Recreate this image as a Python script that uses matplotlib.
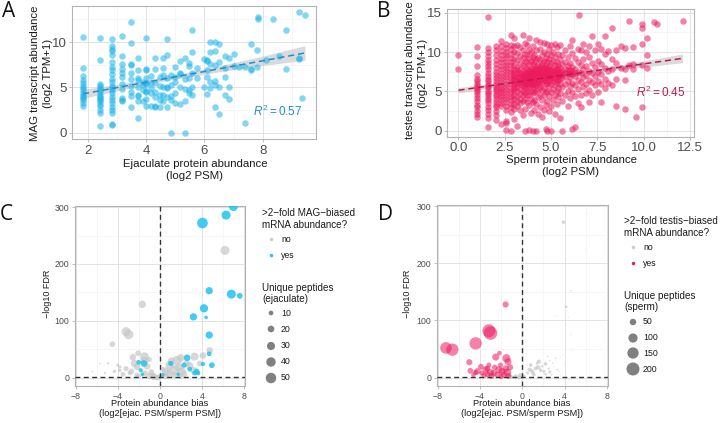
import numpy as np
import matplotlib
matplotlib.use('Agg')
import matplotlib.pyplot as plt
from matplotlib.ticker import MultipleLocator

plt.rcParams['font.family'] = ['Liberation Sans', 'DejaVu Sans']
plt.rcParams['mathtext.fontset'] = 'custom'
plt.rcParams['mathtext.rm'] = 'Liberation Sans'
plt.rcParams['mathtext.it'] = 'Liberation Sans:italic'

# ---- panel A: ejaculate protein vs MAG transcript (columns of points)
a_cols = [1.83, 2.42, 2.81, 3.17, 3.46, 3.7, 3.9, 4.0, 4.17, 4.3, 4.46, 4.58, 4.7,
          4.86, 5.0, 5.17, 5.32, 5.46, 5.58, 5.75, 6.0, 6.1, 6.2, 6.35, 6.5, 6.7,
          6.85, 7.0, 7.2, 7.4, 7.6, 7.8, 7.85, 8.1, 8.35, 8.55, 8.8, 9.25, 9.35, 9.45]
a_vals = [
    [10.55, 7.15, 6.25, 5.85, 5.5, 5.2, 4.95, 4.7, 4.4, 4.2, 4.0, 3.85, 3.65, 3.3, 2.95],
    [10.4, 8.05, 5.4, 5.2, 4.95, 4.7, 4.45, 4.2, 4.0, 3.8, 3.65, 3.5, 3.2, 2.95, 2.55, 2.2, 0.8],
    [10.3, 9.6, 9.2, 9.0, 8.6, 7.8, 7.3, 6.95, 6.5, 5.9, 5.55, 5.2, 4.95, 4.7, 4.4, 4.0,
     3.65, 3.3, 2.9, 2.55, 2.2, 1.0, 0.9],
    [10.7, 8.5, 7.6, 7.0, 6.6, 6.1, 5.4, 4.8, 3.8, 3.6, 3.5],
    [12.2, 9.9, 7.6, 7.5, 6.6, 5.9, 5.2, 4.5, 4.1, 2.8],
    [8.3, 6.9, 6.0, 5.8, 5.0, 4.2, 4.1, 3.5, 1.6],
    [5.6, 5.3, 4.7, 3.5],
    [10.5, 7.0, 6.9, 6.0, 5.5, 5.4, 4.6, 4.5, 3.7, 3.0],
    [6.3, 5.5, 4.9, 4.4, 3.0],
    [8.3, 7.0, 5.5, 4.5, 4.0, 3.0, 2.9],
    [6.2, 5.2, 4.2, 3.6, 2.9],
    [8.3, 7.1, 6.4, 5.0, 4.2, 3.5],
    [10.3, 8.6, 6.0, 5.0, 4.9, 3.9, 2.9],
    [6.4, 5.3, 4.1, 3.6, 0.0],
    [7.3, 6.1, 5.6, 4.4, 3.3],
    [7.9, 6.6, 6.5, 5.0, 3.2],
    [8.3, 5.9, 4.8, 3.5, 0.0],
    [7.7, 7.4, 6.0, 4.7, 4.4],
    [11.3, 8.9, 6.6, 5.1, 4.2],
    [7.2, 6.0],
    [8.1, 5.1],
    [8.0, 7.9, 6.9, 6.2, 4.3],
    [10.0, 8.9, 7.6, 5.6, 4.9],
    [10.0, 9.0, 7.5, 5.7, 5.3, 2.9],
    [9.8, 7.8, 5.0, 2.1],
    [8.5, 7.2, 6.2, 4.2],
    [8.2, 5.0, 3.7],
    [8.7, 7.4],
    [7.3],
    [7.3, 1.1],
    [9.8, 7.0, 6.9],
    [9.1, 7.3],
    [12.8, 12.5],
    [8.0],
    [12.5],
    [8.5],
    [11.3, 7.0],
    [13.3, 8.2, 8.1],
    [3.8],
    [13.0],
]
a_fit_x = [1.83, 3.3, 4.8, 6.3, 7.9, 9.45]
a_fit_y = [4.3, 5.17, 6.05, 6.94, 7.88, 8.8]
a_fit_lo = [3.8, 4.85, 5.83, 6.62, 7.38, 8.0]
a_fit_hi = [4.8, 5.49, 6.27, 7.26, 8.38, 9.6]

# ---- panel B: sperm protein vs testes transcript
b_cols = [0.0, 1.0, 1.58, 2.0, 2.32, 2.58, 2.81, 3.0, 3.17, 3.32, 3.46, 3.58, 3.7,
          3.81, 3.91, 4.0, 4.1, 4.2, 4.3, 4.4, 4.5, 4.6, 4.7, 4.8, 4.9, 5.0, 5.1,
          5.2, 5.3, 5.4, 5.5, 5.6, 5.75, 5.9, 6.0, 6.15, 6.3, 6.45, 6.5, 6.6, 6.75,
          6.9, 7.05, 7.2, 7.4, 7.55, 7.7, 7.9, 8.1, 8.3, 8.5, 8.8, 9.0, 9.2, 9.4,
          9.6, 9.9, 10.2, 10.55, 10.7, 12.1]
b_vals = [
    [9.6, 7.9],
    [10.6, 9.5, 8.2, 7.1, 6.6, 6.3, 6.0, 5.7, 5.5, 5.2, 4.9, 4.6, 4.2, 3.8, 3.3, 3.0, 2.5, 2.1, 1.8],
    [14.5, 10.5, 10.0, 9.5, 9.0, 8.6, 8.2, 7.8, 7.4, 7.0, 6.6, 6.3, 6.0, 5.7, 5.4, 5.1,
     4.8, 4.5, 4.2, 3.9, 3.5, 3.0, 2.6, 2.1, 1.6, 0.5],
    [10.8, 10.2, 9.6, 9.0, 8.5, 8.0, 7.5, 7.1, 6.7, 6.3, 5.9, 5.6, 5.3, 5.0, 4.7, 4.4,
     4.0, 3.6, 3.3, 3.0, 2.5, 2.0, 1.4],
    [11.4, 10.8, 10.1, 9.6, 9.1, 8.7, 8.2, 7.8, 7.4, 7.0, 6.6, 6.2, 5.8, 5.5, 5.2, 4.9,
     4.6, 4.3, 3.9, 3.5, 3.2, 0.9],
    [11.0, 10.5, 10.0, 9.6, 9.2, 8.8, 8.4, 8.0, 7.6, 7.2, 6.8, 6.4, 6.0, 5.6, 5.2, 4.8,
     4.4, 4.0, 3.6, 3.2, 2.6, 1.3, 1.0, 0.1],
    [12.2, 10.9, 10.4, 9.8, 9.3, 8.8, 8.3, 7.9, 7.5, 7.1, 6.7, 6.3, 5.9, 5.5, 5.1, 4.7,
     4.3, 3.9, 3.4, 3.0, 2.4, 0.0],
    [11.8, 10.8, 10.0, 9.1, 8.4, 7.7, 7.3, 7.0, 6.7, 6.4, 6.1, 5.8, 5.5, 5.2, 4.6, 4.0, 3.4, 2.8, 1.5],
    [10.9, 9.9, 9.0, 8.1, 7.7, 7.4, 6.8, 6.5, 6.2, 5.9, 5.6, 5.0, 4.4, 3.8, 3.1, 0.6],
    [10.6, 9.5, 8.6, 7.8, 7.4, 7.1, 6.8, 6.5, 6.2, 5.9, 5.3, 4.7, 4.1, 3.5, 2.6],
    [12.2, 10.2, 9.3, 8.4, 7.6, 7.2, 6.9, 6.6, 6.3, 6.0, 5.7, 5.1, 4.5, 3.8, 2.0],
    [11.1, 9.8, 8.9, 8.1, 7.4, 7.0, 6.7, 6.4, 6.1, 5.8, 5.5, 4.8, 4.0, 2.8, 0.0],
    [10.9, 9.6, 8.7, 7.9, 7.5, 7.2, 6.8, 6.5, 6.2, 5.9, 5.2, 4.5, 3.6],
    [11.8, 10.3, 9.2, 8.3, 7.6, 7.2, 6.8, 6.4, 6.1, 5.8, 5.4, 4.6, 3.3, 0.1],
    [10.0, 8.9, 8.0, 7.6, 7.3, 6.9, 6.6, 6.2, 5.9, 5.1, 4.1, 2.3],
    [10.8, 9.4, 8.5, 7.7, 7.3, 7.0, 6.6, 6.3, 6.0, 5.6, 4.8, 3.6, 0.0],
    [9.6, 8.7, 7.9, 7.5, 7.1, 6.7, 6.4, 6.0, 5.7, 4.9, 3.9, 2.6],
    [11.5, 10.2, 9.1, 8.2, 7.8, 7.4, 7.0, 6.6, 6.2, 5.8, 5.0, 3.4, 0.0],
    [9.3, 8.4, 7.9, 7.6, 7.2, 6.9, 6.5, 6.1, 5.3, 4.3, 2.2],
    [11.3, 10.4, 9.0, 8.1, 7.7, 7.3, 6.9, 6.5, 6.0, 5.6, 4.6, 3.0],
    [9.6, 8.6, 8.2, 7.8, 7.4, 7.0, 6.6, 6.2, 5.2, 3.9, 1.8],
    [11.1, 10.0, 8.9, 8.0, 7.6, 7.2, 6.8, 6.4, 5.5, 4.5, 2.7],
    [9.3, 8.4, 8.0, 7.6, 7.2, 6.8, 6.3, 5.9, 4.9, 3.3, 0.2],
    [11.0, 9.8, 8.7, 7.8, 7.4, 7.0, 6.5, 6.1, 5.1, 3.8, 0.0],
    [10.4, 9.1, 8.2, 7.8, 7.4, 6.9, 6.6, 5.7, 4.4, 2.5],
    [10.9, 9.6, 8.6, 7.7, 7.3, 6.9, 6.5, 6.0, 4.9, 3.1, 0.0],
    [10.0, 8.9, 8.0, 7.6, 7.2, 6.7, 6.3, 5.3, 3.9],
    [11.0, 9.4, 8.4, 7.6, 7.2, 6.7, 5.8, 4.5, 2.1],
    [10.6, 8.8, 7.9, 7.4, 7.0, 6.5, 6.1, 5.0, 3.4],
    [9.8, 8.3, 7.8, 7.4, 6.9, 6.5, 5.5, 4.3],
    [10.9, 9.1, 8.0, 7.5, 7.1, 6.6, 6.0, 4.8, 1.6],
    [9.6, 8.5, 7.6, 7.2, 6.7, 5.6, 3.8, 0.0],
    [10.3, 8.8, 7.8, 7.3, 6.9, 5.9, 4.6],
    [9.4, 8.2, 7.7, 7.3, 6.3, 5.1, 3.2],
    [10.8, 8.6, 7.7, 7.2, 6.8, 5.7, 4.2],
    [11.5, 9.9, 8.1, 7.6, 7.2, 6.1, 4.9, 0.2],
    [9.2, 7.9, 7.4, 7.0, 5.8, 4.4, 0.5],
    [10.4, 8.7, 7.5, 6.5, 5.3, 3.5],
    [14.7],
    [10.2, 8.4, 7.3, 6.2, 4.6, 3.0],
    [11.0, 9.1, 7.8, 6.8, 5.6],
    [10.0, 8.2, 7.1, 6.0, 4.8],
    [10.8, 9.4, 7.6, 6.5, 5.2, 3.7],
    [12.0, 8.6, 7.3, 6.2, 4.5],
    [10.2, 8.1, 7.0, 5.8],
    [11.0, 8.9, 7.5, 6.3, 4.9],
    [10.4, 8.5, 7.2, 6.0, 3.6],
    [12.0, 9.8, 8.0, 6.6, 5.4],
    [10.1, 7.6, 6.1],
    [13.1, 9.1, 7.9, 5.8],
    [10.2, 8.6, 6.6, 3.2],
    [10.8, 8.0],
    [10.5, 7.9, 6.4, 2.8],
    [14.0, 8.4],
    [10.6, 8.5, 7.8],
    [1.8],
    [13.1, 13.5, 11.0, 8.3, 3.0],
    [11.8, 9.6, 8.0],
    [13.8],
    [13.6],
    [13.9],
]
b_fit_x = [0.0, 2.3, 4.5, 7.0, 9.5, 12.1]
b_fit_y = [5.15, 5.92, 6.66, 7.5, 8.33, 9.2]
b_fit_lo = [4.8, 5.7, 6.54, 7.3, 7.98, 8.65]
b_fit_hi = [5.5, 6.14, 6.78, 7.7, 8.68, 9.75]

# ---- panel C: volcano, coloured by MAG-biased mRNA
c_yes_x = [7.0, 6.3, 4.06, 4.7, 6.8, 7.6, 4.2, 4.4, 3.2, 4.7, 4.7, 2.6, 4.95, 4.1,
           3.5, 2.3, 1.05, 2.85, 3.3, -1.5, -2.0, -1.8, -1.65, 0.3, 1.75, 3.65]
c_yes_y = [301, 286, 272, 153, 147, 144, 122, 106, 107, 75, 42, 35, 22, 24,
           11, 22, 25, 15, 8, 25, 27, 13, 6, 5, 6, 8]
c_yes_pep = [37, 37, 52, 24, 37, 15, 31, 6, 24, 24, 10, 20, 15, 8,
             15, 12, 12, 10, 10, 20, 10, 8, 6, 6, 6, 8]
c_no_x = [6.2, -1.65, -3.2, -2.95, -4.5, 4.75, 4.1, 3.3, 1.65, 0.95, 1.4, 0.6, 2.1,
          2.85, -2.05, -2.55, -1.45, -1.45, -2.15, -2.7, -3.2, -3.8, -4.3, -4.9,
          -0.95, -0.5, -0.15, 0.0, -0.6, -2.2, -2.85, -1.4, 2.55, 3.2, 1.3, 1.9,
          0.55, -6.4, -5.7, -3.8,
          -2.4, -1.2, -0.8, 0.8, 1.8, 2.3, -3.5, -2.0, 1.1, 2.0, -1.0, 3.8,
          -5.2, -4.0, 0.3]
c_no_y = [224, 129, 81, 76, 59, 48, 39, 37, 30, 22, 13, 11, 11,
          21, 43, 36, 37, 30, 19, 11, 16, 13, 11, 25,
          3, 1, 0, 2, 5, 5, 8, 8, 25, 13, 5, 3,
          2, 11, 25, 19,
          25, 20, 10, 8, 18, 6, 6, 3, 30, 35, 32, 25,
          8, 22, 15]
c_no_pep = [37, 25, 37, 40, 15, 20, 20, 30, 40, 35, 40, 30, 30,
            25, 15, 20, 35, 30, 20, 15, 12, 6, 5, 2,
            20, 20, 15, 10, 10, 8, 8, 15, 20, 20, 20, 15,
            15, 1, 1, 5,
            25, 20, 15, 25, 30, 20, 10, 10, 20, 25, 12, 15,
            2, 4, 10]

# ---- panel D: volcano, coloured by testis-biased mRNA
d_yes_x = [-1.57, -3.0, -3.15, -4.4, -7.2, -6.6, -5.0, -2.15, -2.5, -1.5, -1.35,
           -4.9, -4.25, -3.9, -3.45, -3.0, -2.7, -2.2, -1.9, -1.57, -1.4, -1.75,
           -2.35, -3.3, -3.8, -4.4, -2.05, -3.15,
           -3.6, -2.9, -2.0, -4.6, -1.3, -1.15, -2.6, -3.3]
d_yes_y = [128, 78, 82, 60, 52, 49, 27, 43, 36, 34, 28,
           12, 11, 19, 14, 9, 8, 14, 11, 16, 9, 5,
           5, 6, 8, 9, 22, 22,
           4, 3, 2, 5, 3, 18, 18, 16]
d_yes_pep = [45, 220, 200, 180, 160, 180, 45, 25, 60, 80, 60,
             40, 50, 40, 50, 60, 50, 60, 60, 50, 70, 50,
             40, 40, 30, 30, 30, 30,
             35, 40, 30, 25, 40, 45, 35, 40]
d_no_x = [3.9, 6.1, 6.0, 4.6, 4.15, 4.35, 3.15, 4.6, 4.7, 3.85, 1.57, 0.8, 1.25,
          1.75, 2.05, 2.5, 2.85, 3.15, 3.45, 0.5, 1.1, -0.6, -0.3, -1.1, 0.15,
          2.2, 1.9, 2.6, 3.0, 1.4, 0.9, 2.8, 3.6, -0.9,
          1.5, 0.7, 2.2, 1.0, 2.6, -0.2, 3.3, 4.0, 3.6, 2.4]
d_no_y = [272, 287, 224, 152, 124, 106, 107, 75, 48, 39, 28, 22, 16,
          13, 11, 16, 25, 34, 11, 8, 5, 2, 0, 2, 3,
          6, 20, 30, 20, 25, 12, 5, 3, 1,
          18, 14, 24, 9, 10, 4, 14, 25, 36, 37]
d_no_pep = [15, 1, 1, 2, 8, 1, 1, 1, 1, 1, 20, 15, 15,
            15, 10, 5, 2, 2, 2, 10, 15, 20, 15, 15, 10,
            8, 6, 2, 1, 8, 10, 3, 1, 12,
            25, 20, 15, 20, 10, 20, 3, 1, 1, 2]

c_leg_sizes = [10, 20, 30, 40, 50]
d_leg_sizes = [50, 100, 150, 200]

CYAN = '#1DB5E9'
CYAN_LINE = '#1C8FD3'
CYAN_C = '#20C3F2'
PINK = '#EC1A5E'
PINK_LINE = '#C3164C'
GREY = '#C6C6C6'
TICK_C = '#4D4D4D'

W, H = 720, 423
fig = plt.figure(figsize=(W / 100, H / 100), dpi=100)


def box(l, t, r, b):
    return [l / W, 1 - b / H, (r - l) / W, (b - t) / H]


def style(ax, fs, xmaj, xmin, ymaj, ymin):
    for s in ax.spines.values():
        s.set_color('#B3B3B3')
        s.set_linewidth(0.8)
    ax.xaxis.set_major_locator(MultipleLocator(xmaj))
    ax.xaxis.set_minor_locator(MultipleLocator(xmin))
    ax.yaxis.set_major_locator(MultipleLocator(ymaj))
    ax.yaxis.set_minor_locator(MultipleLocator(ymin))
    ax.grid(which='major', color='#DEDEDE', lw=0.6)
    ax.grid(which='minor', color='#F0F0F0', lw=0.4)
    ax.set_axisbelow(True)
    ax.tick_params(which='major', length=2.5, width=0.6, color='#B3B3B3',
                   labelsize=fs, labelcolor=TICK_C, pad=1.5)
    ax.tick_params(which='minor', length=0)


def pt2(d_px):
    return (np.asarray(d_px) * 0.72) ** 2


# panel A
axA = fig.add_axes(box(72, 6, 316, 139))
ax_ = np.concatenate([[x] * len(v) for x, v in zip(a_cols, a_vals)])
ay_ = np.concatenate(a_vals)
axA.fill_between(a_fit_x, a_fit_lo, a_fit_hi, color='#BDBDBD', alpha=0.55, lw=0, zorder=2)
axA.scatter(ax_, ay_, s=pt2(6.5), color=CYAN, alpha=0.55, lw=0, zorder=3)
axA.plot(a_fit_x, a_fit_y, color=CYAN_LINE, lw=1.1, dashes=(4, 2.5), zorder=4)
axA.set_xlim(1.45, 9.83)
axA.set_ylim(-0.67, 13.97)
style(axA, 9.5, 2, 1, 5, 2.5)
axA.text(8.52, 2.4, r'$R^2=0.57$', color=CYAN_LINE, fontsize=8.5, ha='center', va='center')

# panel B
axB = fig.add_axes(box(447, 9.5, 694, 136.7))
bx_ = np.concatenate([[x] * len(v) for x, v in zip(b_cols, b_vals)])
by_ = np.concatenate(b_vals)
axB.fill_between(b_fit_x, b_fit_lo, b_fit_hi, color='#BDBDBD', alpha=0.55, lw=0, zorder=2)
axB.scatter(bx_, by_, s=pt2(6.5), color=PINK, alpha=0.55, lw=0, zorder=3)
axB.plot(b_fit_x, b_fit_y, color=PINK_LINE, lw=1.1, dashes=(4, 2.5), zorder=4)
axB.set_xlim(-0.62, 12.72)
axB.set_ylim(-0.74, 15.4)
style(axB, 9.5, 2.5, 1.25, 5, 2.5)
axB.text(10.9, 4.9, r'$R^2=0.45$', color=PINK_LINE, fontsize=8.5, ha='center', va='center')


def volcano(ax, nx, ny, npep, yx, yy, ypep, col, k, a_yes):
    ax.scatter(nx, ny, s=pt2(k * np.sqrt(npep)), color=GREY, alpha=0.7, lw=0, zorder=3)
    ax.scatter(yx, yy, s=pt2(k * np.sqrt(ypep)), color=col, alpha=a_yes, lw=0, zorder=4)
    ax.axvline(0, color='#333333', lw=1.0, dashes=(3.5, 2.5), zorder=5)
    ax.axhline(1.3, color='#333333', lw=1.0, dashes=(3.5, 2.5), zorder=5)
    ax.set_xlim(-8.05, 8.1)
    ax.set_ylim(-14.6, 302)
    style(ax, 6.3, 4, 2, 100, 50)


axC = fig.add_axes(box(75, 206, 245, 386))
volcano(axC, c_no_x, c_no_y, c_no_pep, c_yes_x, c_yes_y, c_yes_pep, CYAN_C, 1.485, 0.85)
axD = fig.add_axes(box(437, 205, 608, 386))
volcano(axD, d_no_x, d_no_y, d_no_pep, d_yes_x, d_yes_y, d_yes_pep, PINK, 0.92, 0.55)

# overlay in pixel coordinates for labels and legends
ov = fig.add_axes([0, 0, 1, 1])
ov.set_xlim(0, W)
ov.set_ylim(H, 0)
ov.axis('off')
ov.patch.set_alpha(0)

lab = dict(color='#1A1A1A', ha='center', va='center')
ov.text(195, 164, 'Ejaculate protein abundance', fontsize=8.2, **lab)
ov.text(195, 176, '(log2 PSM)', fontsize=8.2, **lab)
ov.text(35, 73, 'MAG transcript abundance', fontsize=8.2, rotation=90, **lab)
ov.text(48, 73, '(log2 TPM+1)', fontsize=8.2, rotation=90, **lab)
ov.text(571, 160, 'Sperm protein abundance', fontsize=8.2, **lab)
ov.text(571, 172, '(log2 PSM)', fontsize=8.2, **lab)
ov.text(410, 70, 'testes transcript abundance', fontsize=8.0, rotation=90, **lab)
ov.text(423, 73, '(log2 TPM+1)', fontsize=8.2, rotation=90, **lab)

for cx, ycx in [(160, 48), (522, 408)]:
    ov.text(cx, 404, 'Protein abundance bias', fontsize=6.7, **lab)
    ov.text(cx, 414, '(log2[ejac. PSM/sperm PSM])', fontsize=6.7, **lab)
    ov.text(ycx, 294, '\u2212log10 FDR', fontsize=6.5, rotation=90, **lab)

for t, x, y in [('A', 2, 1), ('B', 377, 1), ('C', 0, 204), ('D', 378, 204)]:
    ov.text(x, y, t, fontsize=15, ha='left', va='top', color='#111111', family='Open Sans')


def legend(x0, ty, title1, col, sizes, size_title, k, ys):
    lt = dict(color='#1A1A1A', ha='left', va='center')
    ov.text(x0, ty, title1, fontsize=7.1, **lt)
    ov.text(x0, ty + 12, 'mRNA abundance?', fontsize=7.1, **lt)
    ov.scatter([x0 + 9], [ty + 26], s=pt2(3.5), color='#CCCCCC', lw=0)
    ov.text(x0 + 19, ty + 26, 'no', fontsize=6.3, **lt)
    ov.scatter([x0 + 9], [ty + 42], s=pt2(3.5), color=col, lw=0)
    ov.text(x0 + 19, ty + 42, 'yes', fontsize=6.3, **lt)
    ov.text(x0, ty + 75, 'Unique peptides', fontsize=7.1, **lt)
    ov.text(x0, ty + 86, size_title, fontsize=7.1, **lt)
    ov.scatter([x0 + 9] * len(sizes), ys, s=pt2(k * np.sqrt(sizes)), color='#808080', lw=0)
    for v, y in zip(sizes, ys):
        ov.text(x0 + 19, y, str(v), fontsize=6.3, **lt)


legend(262, 213, '>2\u2212fold MAG\u2212biased', CYAN_C, c_leg_sizes, '(ejaculate)',
       1.485, [313, 329, 346, 362, 378])
legend(624, 221, '>2\u2212fold testis\u2212biased', PINK, d_leg_sizes, '(sperm)',
       0.92, [322, 338, 353, 369])

fig.savefig('out.png', dpi=100)
